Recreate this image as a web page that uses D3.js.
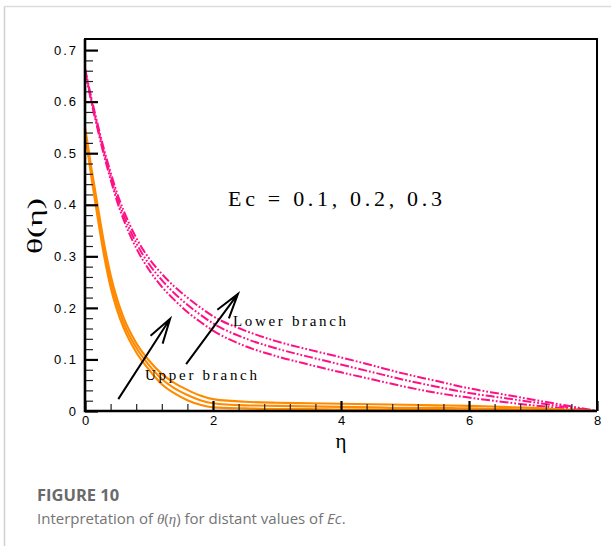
<!DOCTYPE html>
<html>
<head>
<meta charset="utf-8">
<script src="https://cdn.jsdelivr.net/npm/d3@7"></script>
<style>
  body { margin: 0; background: #fff; }
  svg { display: block; }
</style>
</head>
<body>
<svg id="chart" width="611" height="546"></svg>
<script>
// 1. data
const eta = [0, 0.1, 0.2, 0.3, 0.4, 0.5, 0.6, 0.8, 1.0, 1.2, 1.4, 1.6, 1.8, 2.0,
  2.5, 3.0, 3.5, 4.0, 4.5, 5.0, 5.5, 6.0, 6.5, 7.0, 7.5, 8.0];

// lower branch (dash-dot-dot, pink), Ec = 0.1, 0.2, 0.3
const lowerEc01 = [0.659, 0.599, 0.545, 0.494, 0.449, 0.407, 0.372, 0.316, 0.274, 0.241, 0.215, 0.192, 0.173, 0.156,
  0.126, 0.106, 0.090, 0.075, 0.061, 0.047, 0.035, 0.026, 0.018, 0.011, 0.005, 0.000];
const lowerEc02 = [0.662, 0.603, 0.550, 0.500, 0.456, 0.415, 0.381, 0.326, 0.285, 0.254, 0.228, 0.206, 0.187, 0.170,
  0.141, 0.121, 0.105, 0.090, 0.075, 0.060, 0.047, 0.035, 0.026, 0.017, 0.008, 0.000];
const lowerEc03 = [0.665, 0.607, 0.555, 0.506, 0.463, 0.423, 0.390, 0.336, 0.296, 0.266, 0.241, 0.220, 0.201, 0.184,
  0.156, 0.135, 0.119, 0.104, 0.088, 0.072, 0.058, 0.044, 0.033, 0.022, 0.011, 0.000];

// upper branch (solid, orange), Ec = 0.1, 0.2, 0.3
const upperEc01 = [0.539, 0.453, 0.373, 0.300, 0.240, 0.196, 0.162, 0.114, 0.080, 0.052, 0.034, 0.021, 0.012, 0.007,
  0.005, 0.004, 0.004, 0.003, 0.003, 0.002, 0.002, 0.001, 0.001, 0.001, 0.000, 0.000];
const upperEc02 = [0.545, 0.462, 0.385, 0.312, 0.252, 0.207, 0.172, 0.123, 0.089, 0.062, 0.044, 0.031, 0.021, 0.015,
  0.011, 0.010, 0.009, 0.008, 0.007, 0.006, 0.006, 0.005, 0.004, 0.003, 0.002, 0.000];
const upperEc03 = [0.551, 0.471, 0.397, 0.324, 0.264, 0.218, 0.182, 0.132, 0.098, 0.072, 0.054, 0.041, 0.030, 0.023,
  0.018, 0.016, 0.015, 0.014, 0.013, 0.012, 0.011, 0.010, 0.008, 0.006, 0.003, 0.000];

const xMajor = [0, 2, 4, 6, 8];
const yMajor = [0, 0.1, 0.2, 0.3, 0.4, 0.5, 0.6, 0.7];

// arrows [tail eta, tail theta, head eta, head theta]
const arrows = [
  [0.52, 0.023, 1.33, 0.179],
  [1.58, 0.091, 2.39, 0.227]
];

// 2. scales
const svg = d3.select('#chart');
const plotL = 85, plotR = 597, plotT = 39, plotB = 411;

const x = d3.scaleLinear().domain([0, 8]).range([plotL, plotR]);
const y = d3.scaleLinear().domain([0, 0.7215]).range([plotB, plotT]);

// page frame
svg.append('line').attr('x1', 4.5).attr('x2', 611).attr('y1', 6.5).attr('y2', 6.5)
  .attr('stroke', '#dcdcdc').attr('stroke-width', 1.5);
svg.append('line').attr('x1', 4.5).attr('x2', 4.5).attr('y1', 6.5).attr('y2', 546)
  .attr('stroke', '#d0d0d0').attr('stroke-width', 1.5);

// 3. curves
const line = d3.line()
  .x((d, i) => x(eta[i]))
  .y(d => y(d))
  .curve(d3.curveMonotoneX);

const curveGroup = svg.append('g').attr('class', 'curves');

[lowerEc01, lowerEc02, lowerEc03].forEach(s => {
  curveGroup.append('path')
    .attr('d', line(s))
    .attr('fill', 'none')
    .attr('stroke', '#ff1185')
    .attr('stroke-width', 2)
    .attr('stroke-dasharray', '9,2,1.8,2,1.8,2');
});

[upperEc01, upperEc02, upperEc03].forEach(s => {
  curveGroup.append('path')
    .attr('d', line(s))
    .attr('fill', 'none')
    .attr('stroke', '#ff8a00')
    .attr('stroke-width', 2.1);
});

// 4. axes (ticks point inward)
const tickFont = g => g.selectAll('text')
  .attr('font-family', '"Liberation Sans", Arial, sans-serif')
  .attr('font-size', 13)
  .attr('fill', '#000')
  .style('letter-spacing', '2px');

const yMinor = d3.range(0, 0.7001, 0.02).filter(v => Math.abs(v * 10 - Math.round(v * 10)) > 1e-6);
const xMinor = d3.range(0, 8.001, 0.4).filter(v => Math.abs(v / 2 - Math.round(v / 2)) > 1e-6);

svg.append('g').attr('transform', `translate(${plotL},0)`)
  .call(d3.axisLeft(y).tickValues(yMinor).tickSize(-8).tickFormat(''))
  .call(g => g.select('.domain').remove())
  .call(g => g.selectAll('line').attr('stroke', '#222').attr('stroke-width', 1.2));

svg.append('g').attr('transform', `translate(0,${plotB})`)
  .call(d3.axisBottom(x).tickValues(xMinor).tickSize(-7).tickFormat(''))
  .call(g => g.select('.domain').remove())
  .call(g => g.selectAll('line').attr('stroke', '#222').attr('stroke-width', 1.2));

svg.append('g').attr('transform', `translate(${plotL},0)`)
  .call(d3.axisLeft(y).tickValues(yMajor).tickSize(-13).tickPadding(7)
    .tickFormat(d => d === 0 ? '0' : d3.format('.1f')(d)))
  .call(g => g.select('.domain').remove())
  .call(g => g.selectAll('line').attr('stroke', '#000').attr('stroke-width', 2.2))
  .call(tickFont);

svg.append('g').attr('transform', `translate(0,${plotB})`)
  .call(d3.axisBottom(x).tickValues(xMajor).tickSize(-10).tickPadding(5).tickFormat(d3.format('d')))
  .call(g => g.select('.domain').remove())
  .call(g => g.selectAll('line').attr('stroke', '#000').attr('stroke-width', 2.2))
  .call(g => g.selectAll('text').attr('dx', '1px'))
  .call(tickFont);

// box
svg.append('path')
  .attr('d', `M${plotL},${plotB} L${plotL},${plotT} L${plotR},${plotT} L${plotR},${plotB}`)
  .attr('fill', 'none').attr('stroke', '#000').attr('stroke-width', 2);
svg.append('path')
  .attr('d', `M${plotL},${plotT} L${plotL},${plotB} L${plotR},${plotB}`)
  .attr('fill', 'none').attr('stroke', '#000').attr('stroke-width', 2.6);

// axis titles
const serif = '"Liberation Serif", "Times New Roman", serif';

svg.append('text')
  .attr('x', x(4)).attr('y', 448)
  .attr('text-anchor', 'middle')
  .attr('font-family', serif)
  .attr('font-size', 21)
  .text('η');

svg.append('text')
  .attr('transform', 'translate(42,226) rotate(-90)')
  .attr('text-anchor', 'middle')
  .attr('font-family', serif)
  .attr('font-size', 21)
  .attr('textLength', 56).attr('lengthAdjust', 'spacingAndGlyphs')
  .text('θ(η)');

// 5. annotations
svg.append('text')
  .attr('x', 228).attr('y', 206)
  .attr('font-family', serif).attr('font-size', 22)
  .attr('textLength', 214).attr('lengthAdjust', 'spacing')
  .text('Ec = 0.1, 0.2, 0.3');

svg.append('text')
  .attr('x', 233).attr('y', 326)
  .attr('font-family', serif).attr('font-size', 15)
  .attr('textLength', 113).attr('lengthAdjust', 'spacing')
  .text('Lower branch');

svg.append('text')
  .attr('x', 145).attr('y', 380)
  .attr('font-family', serif).attr('font-size', 15)
  .attr('textLength', 112).attr('lengthAdjust', 'spacing')
  .text('Upper branch');

const arrowGroup = svg.append('g').attr('class', 'arrows')
  .attr('fill', 'none').attr('stroke', '#000').attr('stroke-width', 2);

arrows.forEach(a => {
  const x0 = x(a[0]), y0 = y(a[1]), x1 = x(a[2]), y1 = y(a[3]);
  const ang = Math.atan2(y0 - y1, x0 - x1);
  const L = 26, w = 16 * Math.PI / 180;
  const bx1 = x1 + Math.cos(ang + w) * L, by1 = y1 + Math.sin(ang + w) * L;
  const bx2 = x1 + Math.cos(ang - w) * L, by2 = y1 + Math.sin(ang - w) * L;
  arrowGroup.append('path')
    .attr('d', `M${x0},${y0} L${x1},${y1} M${bx1},${by1} L${x1},${y1} L${bx2},${by2}`);
});

// 6. caption
svg.append('text')
  .attr('x', 37).attr('y', 501)
  .attr('font-family', '"Open Sans", "Noto Sans", sans-serif')
  .attr('font-size', 16.5).attr('font-weight', 'bold')
  .attr('fill', '#6a6a6a')
  .text('FIGURE 10');

const cap = svg.append('text')
  .attr('x', 37).attr('y', 524)
  .attr('font-family', '"Open Sans", "Noto Sans", sans-serif')
  .attr('font-size', 15)
  .attr('fill', '#747474');
cap.append('tspan').text('Interpretation of ');
cap.append('tspan').attr('font-family', serif).attr('font-style', 'italic').text('θ');
cap.append('tspan').text('(');
cap.append('tspan').attr('font-family', serif).attr('font-style', 'italic').text('η');
cap.append('tspan').text(') for distant values of ');
cap.append('tspan').attr('font-style', 'italic').text('Ec');
cap.append('tspan').text('.');
</script>
</body>
</html>
